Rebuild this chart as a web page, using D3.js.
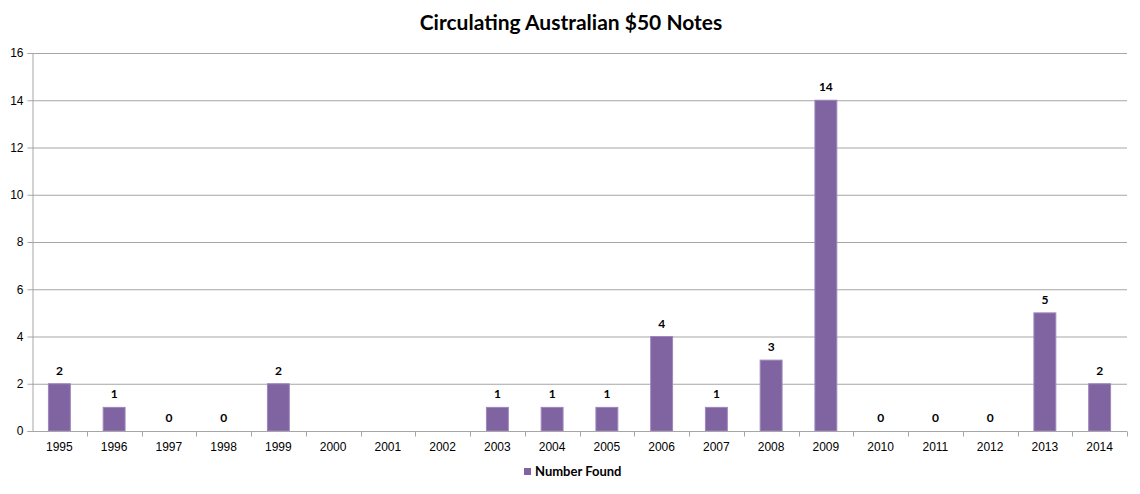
<!DOCTYPE html>
<html>
<head>
<meta charset="utf-8">
<script src="https://cdn.jsdelivr.net/npm/d3@7"></script>
<style>
  body { margin: 0; background: #fff; }
  text { font-family: Lato, "Liberation Sans", sans-serif; }
</style>
</head>
<body>
<svg id="chart"></svg>
<script>
const years = ['1995','1996','1997','1998','1999','2000','2001','2002','2003','2004',
  '2005','2006','2007','2008','2009','2010','2011','2012','2013','2014'];
const found = [2, 1, 0, 0, 2, null, null, null, 1, 1, 1, 4, 1, 3, 14, 0, 0, 0, 5, 2];
const yTicks = [0, 2, 4, 6, 8, 10, 12, 14, 16];

const width = 1140, height = 494;
const margin = { top: 53, right: 13, bottom: 63, left: 32 };
const svg = d3.select('#chart').attr('width', width).attr('height', height);

const x = d3.scaleBand().domain(years)
  .range([margin.left, width - margin.right]).paddingInner(0.6).paddingOuter(0.3);
const xb = d3.scaleBand().domain(years).range([margin.left, width - margin.right]);
const y = d3.scaleLinear().domain([0, 16]).range([height - margin.bottom, margin.top]);

svg.append('text')
  .attr('x', width / 2 + 1).attr('y', 30)
  .attr('text-anchor', 'middle')
  .style('font-size', '21px').style('font-weight', 'bold')
  .text('Circulating Australian $50 Notes');

// gridlines
svg.append('g').selectAll('line').data(yTicks.slice(1)).enter().append('line')
  .attr('x1', margin.left).attr('x2', width - margin.right)
  .attr('y1', d => y(d) + 0.5).attr('y2', d => y(d) + 0.5)
  .attr('stroke', '#a6a6a6').attr('stroke-width', 1);

// y axis
let yAxis = svg.append('g').attr('transform', 'translate(' + (margin.left + 0.5) + ',0)')
  .call(d3.axisLeft(y).tickValues(yTicks).tickSize(5).tickPadding(4));
yAxis.select('.domain').attr('stroke', '#a6a6a6');
yAxis.selectAll('line').attr('stroke', '#a6a6a6');
yAxis.selectAll('text').style('font-family', '"Liberation Sans", sans-serif')
  .style('font-size', '12px').attr('fill', '#000');

// bars
svg.append('g').selectAll('rect').data(years.map((yr, i) => ({ yr, v: found[i] })).filter(d => d.v))
  .enter().append('rect')
  .attr('x', d => x(d.yr)).attr('width', x.bandwidth())
  .attr('y', d => y(d.v)).attr('height', d => y(0) - y(d.v))
  .attr('fill', '#8064a2').attr('stroke', '#9d87bb').attr('stroke-width', 1);

// x axis
const x0 = y(0) + 0.5;
svg.append('line').attr('x1', margin.left).attr('x2', width - margin.right)
  .attr('y1', x0).attr('y2', x0).attr('stroke', '#a6a6a6');
svg.append('g').selectAll('line').data(years).enter().append('line')
  .attr('x1', d => Math.round(xb(d) + xb.bandwidth()) + 0.5)
  .attr('x2', d => Math.round(xb(d) + xb.bandwidth()) + 0.5)
  .attr('y1', x0).attr('y2', x0 + 5).attr('stroke', '#a6a6a6');
svg.append('g').selectAll('text').data(years).enter().append('text')
  .attr('x', d => xb(d) + xb.bandwidth() / 2).attr('y', x0 + 19)
  .attr('text-anchor', 'middle')
  .style('font-family', '"Liberation Sans", sans-serif').style('font-size', '12px')
  .text(d => d);

// data labels
svg.append('g').selectAll('text').data(years.map((yr, i) => ({ yr, v: found[i] })).filter(d => d.v !== null))
  .enter().append('text')
  .attr('x', d => x(d.yr) + x.bandwidth() / 2).attr('y', d => y(d.v) - 9)
  .attr('text-anchor', 'middle')
  .style('font-size', '12px').style('font-weight', 'bold')
  .text(d => d.v);

// legend
const lg = svg.append('g').attr('transform', 'translate(524,468)');
lg.append('rect').attr('width', 7).attr('height', 7).attr('fill', '#8064a2');
lg.append('text').attr('x', 11).attr('y', 8)
  .style('font-size', '13px').style('font-weight', 'bold').text('Number Found');
</script>
</body>
</html>
